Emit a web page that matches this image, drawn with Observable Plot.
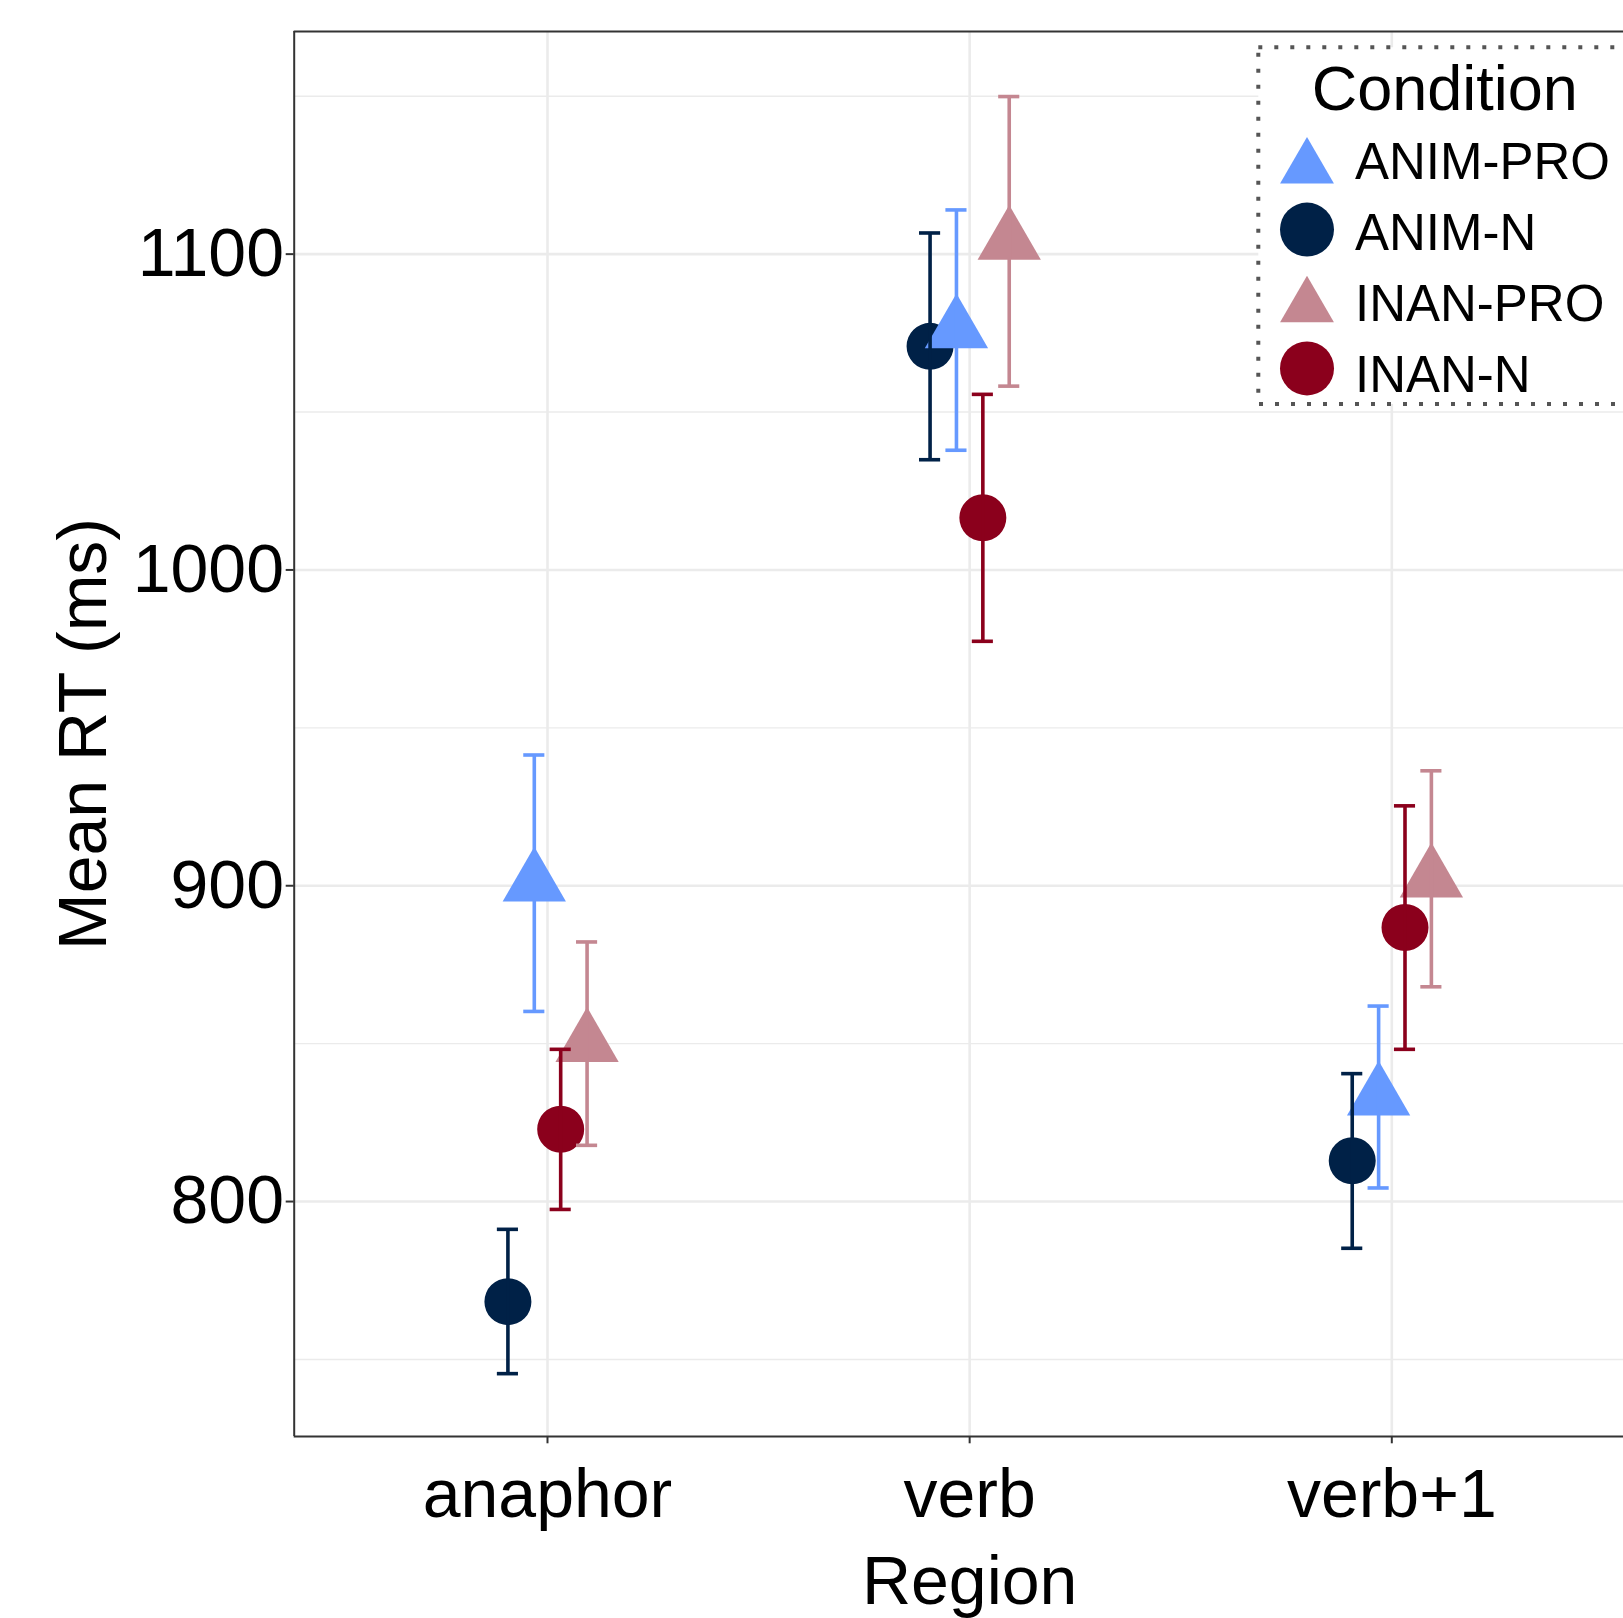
<!DOCTYPE html>
<html>
<head>
<meta charset="utf-8">
<script src="https://cdn.jsdelivr.net/npm/d3@7"></script>
<script src="https://cdn.jsdelivr.net/npm/@observablehq/plot@0.6"></script>
<style>
html, body { margin: 0; padding: 0; background: #fff; overflow: hidden; }
#chart svg { display: block; }
</style>
</head>
<body>
<div id="chart"></div>
<script>
// ---------- data ----------
const regions = ["anaphor", "verb", "verb+1"];
const conditions = ["ANIM-N", "ANIM-PRO", "INAN-N", "INAN-PRO"];      // dodge order
const legendOrder = ["ANIM-PRO", "ANIM-N", "INAN-PRO", "INAN-N"];     // legend order
const conditionColors = ["#002147", "#6699ff", "#8b001c", "#c48791"];
const conditionShapes = ["circle", "triangle", "circle", "triangle"];

// mean RT (ms) per region
const meanANIM_N   = [768.3, 1070.8, 812.9];
const meanANIM_PRO = [900.8, 1076.0, 833.0];
const meanINAN_N   = [822.9, 1016.5, 886.8];
const meanINAN_PRO = [850.0, 1104.0, 902.1];
// error bar limits per region
const lowANIM_N    = [745.5, 1034.9, 785.2];
const highANIM_N   = [791.2, 1106.7, 840.5];
const lowANIM_PRO  = [860.2, 1037.9, 804.3];
const highANIM_PRO = [941.4, 1114.0, 861.9];
const lowINAN_N    = [797.5, 977.4, 848.2];
const highINAN_N   = [848.2, 1055.6, 925.3];
const lowINAN_PRO  = [817.8, 1058.2, 868.0];
const highINAN_PRO = [882.2, 1149.9, 936.4];

const yTicks = [800, 900, 1000, 1100];
const yMinorTicks = [750, 850, 950, 1050, 1150];
const yLabel = "Mean RT (ms)";
const xLabel = "Region";
const legendTitle = "Condition";

// ---------- assemble table ----------
const series = {
  "ANIM-N":   {mean: meanANIM_N,   lo: lowANIM_N,   hi: highANIM_N},
  "ANIM-PRO": {mean: meanANIM_PRO, lo: lowANIM_PRO, hi: highANIM_PRO},
  "INAN-N":   {mean: meanINAN_N,   lo: lowINAN_N,   hi: highINAN_N},
  "INAN-PRO": {mean: meanINAN_PRO, lo: lowINAN_PRO, hi: highINAN_PRO}
};
const dodgeWidth = 0.25;
const capWidth = 0.05;
const rows = [];
conditions.forEach((c, ci) => {
  regions.forEach((r, ri) => {
    rows.push({
      condition: c,
      region: r,
      pos: ri + (ci - (conditions.length - 1) / 2) * dodgeWidth / conditions.length,
      mean: series[c].mean[ri],
      lo: series[c].lo[ri],
      hi: series[c].hi[ri]
    });
  });
});

// ---------- layout ----------
const W = 1623, H = 1618;
const panelLeft = 293.7, panelRight = 1644.6, panelTop = 31, panelBottom = 1436;
const xDomain = [-0.6, regions.length - 1 + 0.6];
const yDomain = [725.6, 1170.5];
const font = "'Liberation Sans', Arial, Helvetica, sans-serif";
const regionIdx = regions.map((_, i) => i);
const barWidth = 3.6;

const chart = Plot.plot({
  width: W,
  height: H,
  marginLeft: panelLeft,
  marginRight: 0,
  marginTop: panelTop,
  marginBottom: H - panelBottom,
  style: {fontFamily: font, background: "#fff", color: "#000"},
  x: {type: "linear", domain: xDomain, range: [panelLeft, panelRight]},
  y: {type: "linear", domain: yDomain, range: [panelBottom, panelTop]},
  color: {domain: conditions, range: conditionColors},
  symbol: {domain: conditions, range: conditionShapes},
  marks: [
    Plot.gridY(yMinorTicks, {stroke: "#ebebeb", strokeOpacity: 1, strokeWidth: 1.4}),
    Plot.gridY(yTicks, {stroke: "#ebebeb", strokeOpacity: 1, strokeWidth: 2.6}),
    Plot.gridX(regionIdx, {stroke: "#ebebeb", strokeOpacity: 1, strokeWidth: 2.6}),
    // panel border (left, top, bottom; right edge lies outside the image)
    Plot.ruleX([xDomain[0]], {stroke: "#333", strokeWidth: 2}),
    Plot.ruleY(yDomain, {stroke: "#333", strokeWidth: 2}),
    // points
    Plot.dot(rows, {x: "pos", y: "mean", fill: "condition", symbol: "condition", r: 23.5}),
    // error bars
    Plot.ruleX(rows, {x: "pos", y1: "lo", y2: "hi", stroke: "condition", strokeWidth: barWidth}),
    Plot.ruleY(rows, {y: "hi", x1: d => d.pos - capWidth / 2, x2: d => d.pos + capWidth / 2, stroke: "condition", strokeWidth: barWidth}),
    Plot.ruleY(rows, {y: "lo", x1: d => d.pos - capWidth / 2, x2: d => d.pos + capWidth / 2, stroke: "condition", strokeWidth: barWidth}),
    // axes
    Plot.axisY(yTicks, {
      anchor: "left", tickSize: 8, tickPadding: 2.2, fontSize: 68,
      stroke: "#333", strokeWidth: 2, tickFormat: d3.format("d"), label: null
    }),
    Plot.axisX(regionIdx, {
      anchor: "bottom", tickSize: 7.3, tickPadding: 24.8, fontSize: 68,
      stroke: "#333", strokeWidth: 2, tickFormat: i => regions[i], label: null
    }),
    Plot.text([xLabel], {
      x: () => (regions.length - 1) / 2, frameAnchor: "bottom", dy: 146,
      textAnchor: "middle", lineAnchor: "middle", fontSize: 68, fill: "#000"
    }),
    Plot.text([yLabel], {
      frameAnchor: "left", rotate: -90, dx: -209.9,
      textAnchor: "middle", lineAnchor: "middle", fontSize: 68, fill: "#000"
    })
  ]
});

// ---------- legend (drawn into the same SVG) ----------
const svg = d3.select(chart);
const lg = svg.append("g").attr("font-family", font).attr("text-anchor", "start");
lg.append("rect")
  .attr("x", 1258.3).attr("y", 47.3)
  .attr("width", 600).attr("height", 356.7)
  .attr("fill", "#fff")
  .attr("stroke", "#555").attr("stroke-width", 4)
  .attr("stroke-dasharray", "4 12");
lg.append("text")
  .attr("x", 1311.7).attr("y", 110)
  .attr("font-size", 63).attr("fill", "#000")
  .attr("text-anchor", "start")
  .text(legendTitle);
legendOrder.forEach((c, i) => {
  const ci = conditions.indexOf(c);
  const color = conditionColors[ci];
  const shape = conditionShapes[ci];
  const cy = 160.2 + 69.4 * i;
  if (shape === "circle") {
    lg.append("circle").attr("cx", 1307).attr("cy", cy).attr("r", 27).attr("fill", color);
  } else {
    const rt = 20;
    lg.append("path")
      .attr("d", d3.symbol(d3.symbolTriangle, Math.PI * rt * rt)())
      .attr("transform", `translate(1307,${cy + 0.389 * rt})`)
      .attr("fill", color);
  }
  lg.append("text")
    .attr("x", 1355).attr("y", 179 + 70.9 * i)
    .attr("font-size", 51).attr("fill", "#000")
    .attr("text-anchor", "start")
    .text(c);
});

document.getElementById("chart").appendChild(chart);
</script>
</body>
</html>
